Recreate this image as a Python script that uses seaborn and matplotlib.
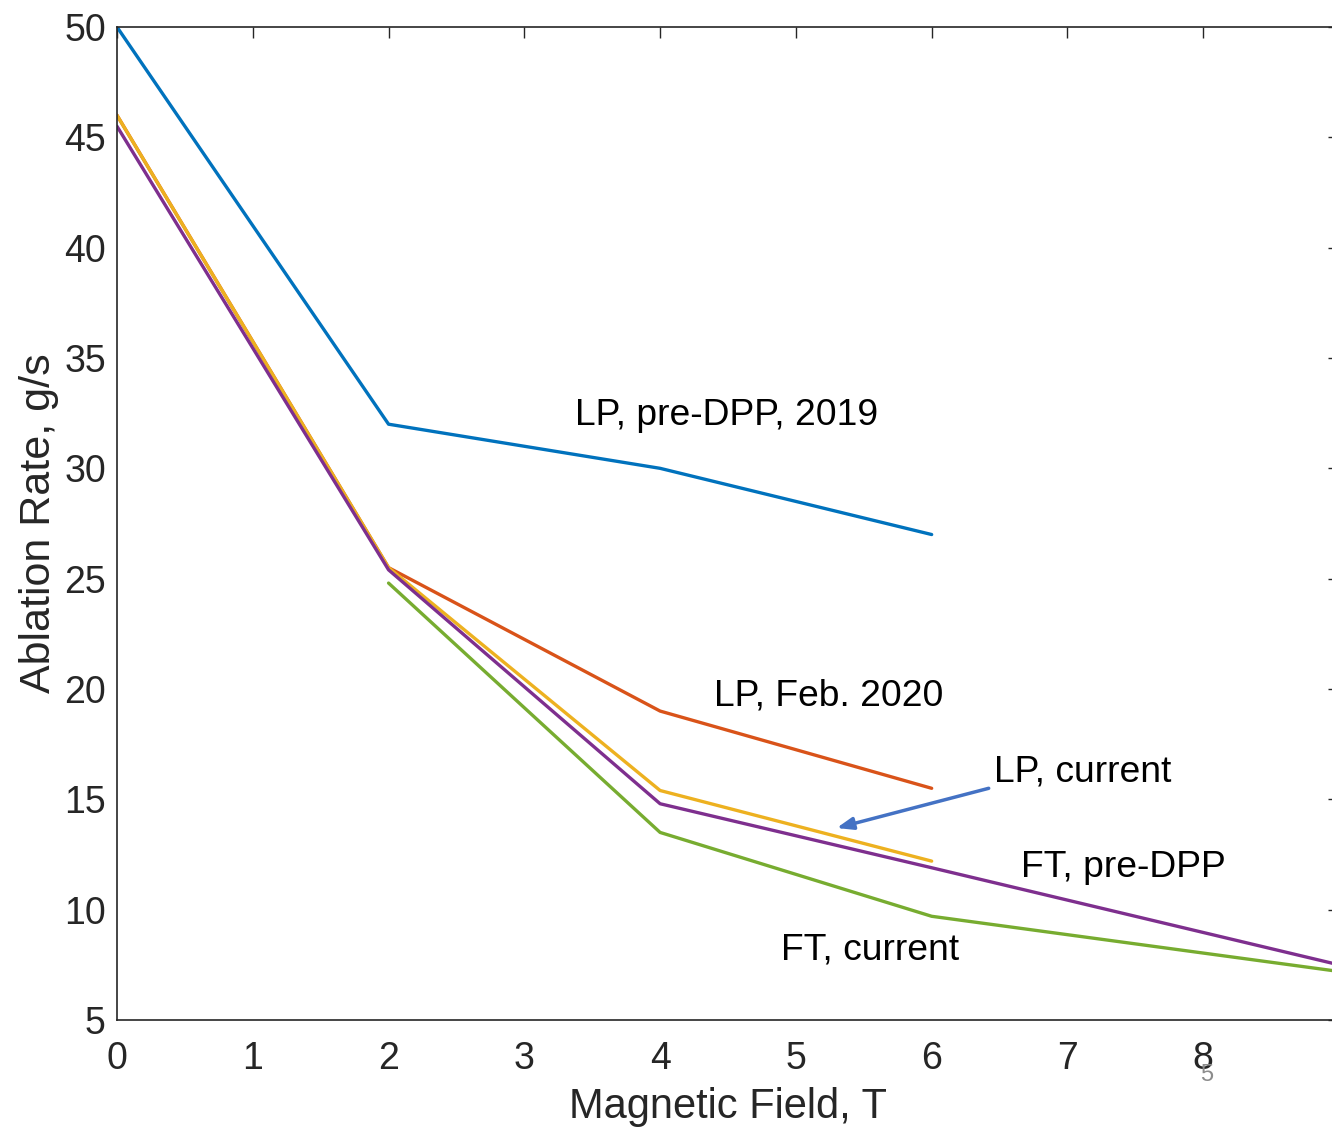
import matplotlib
matplotlib.use("Agg")
import matplotlib.pyplot as plt
import seaborn as sns
import pandas as pd

# Ablation rate vs. magnetic field for each cathode/operating case
field_lp_2019 = [0, 2, 4, 6]
rate_lp_2019 = [50, 32, 30, 27]

field_lp_feb2020 = [0, 2, 4, 6]
rate_lp_feb2020 = [46, 25.5, 19, 15.5]

field_lp_current = [0, 2, 4, 6]
rate_lp_current = [46, 25.5, 15.4, 12.2]

field_ft_predpp = [0, 2, 4, 6, 9]
rate_ft_predpp = [45.5, 25.4, 14.8, 11.9, 7.5]

field_ft_current = [2, 4, 6, 9]
rate_ft_current = [24.8, 13.5, 9.7, 7.2]

series_names = ["LP, pre-DPP, 2019", "LP, Feb. 2020", "LP, current",
                "FT, pre-DPP", "FT, current"]
series_colors = ["#0072BD", "#D95319", "#EDB120", "#7E2F8E", "#77AC30"]

# label anchor points (data coords, left-centre of the text)
label_x = [3.37, 4.40, 6.46, 6.66, 4.89]
label_y = [32.4, 19.7, 16.25, 11.9, 8.15]

frames = []
for name, xs, ys in zip(series_names,
                        [field_lp_2019, field_lp_feb2020, field_lp_current,
                         field_ft_predpp, field_ft_current],
                        [rate_lp_2019, rate_lp_feb2020, rate_lp_current,
                         rate_ft_predpp, rate_ft_current]):
    frames.append(pd.DataFrame({"field": xs, "rate": ys, "case": name}))
df = pd.concat(frames, ignore_index=True)

sns.set_theme(style="white")
plt.rcParams["font.family"] = ["Liberation Sans", "DejaVu Sans"]

W, H = 1332, 1128
fig = plt.figure(figsize=(W / 100, H / 100), dpi=100)
ax = fig.add_axes([117 / W, 108 / H, 1222 / W, 993 / H])

for name, color in zip(series_names, series_colors):
    sub = df[df["case"] == name]
    sns.lineplot(data=sub, x="field", y="rate", ax=ax, color=color,
                 linewidth=2.4, sort=False, estimator=None, legend=False)

ax.set_xlim(0, 9)
ax.set_ylim(5, 50)
ax.set_xticks(range(0, 10))
ax.set_xticklabels([str(i) for i in range(0, 9)] + [""])
ax.set_yticks(range(5, 51, 5))

axis_color = "#262626"
for side in ["left", "bottom", "top", "right"]:
    ax.spines[side].set_visible(True)
    ax.spines[side].set_color(axis_color)
    ax.spines[side].set_linewidth(1.2)

ax.tick_params(axis="both", which="both", direction="in", length=8, width=1,
               colors=axis_color, labelsize=27, top=True, right=True)
ax.tick_params(axis="x", pad=15)
ax.tick_params(axis="y", pad=8)

ax.set_xlabel("Magnetic Field, T", fontsize=30, color=axis_color, labelpad=7)
ax.set_ylabel("Ablation Rate, g/s", fontsize=31, color=axis_color, labelpad=4)

for name, tx, ty in zip(series_names, label_x, label_y):
    ax.text(tx, ty, name, fontsize=26.8, color="black", ha="left", va="center")

# pointer to the "LP, current" curve
ax.annotate("", xy=(5.30, 13.7), xytext=(6.42, 15.5),
            arrowprops=dict(arrowstyle="-|>,head_length=0.8,head_width=0.3",
                            color="#4472C4", lw=2.5, shrinkA=0, shrinkB=0))

# slide number
fig.text(1207 / W, 1 - 1075 / H, "5", fontsize=17, color="#8c8c8c",
         ha="center", va="center")

fig.savefig("out.png", dpi=100)
